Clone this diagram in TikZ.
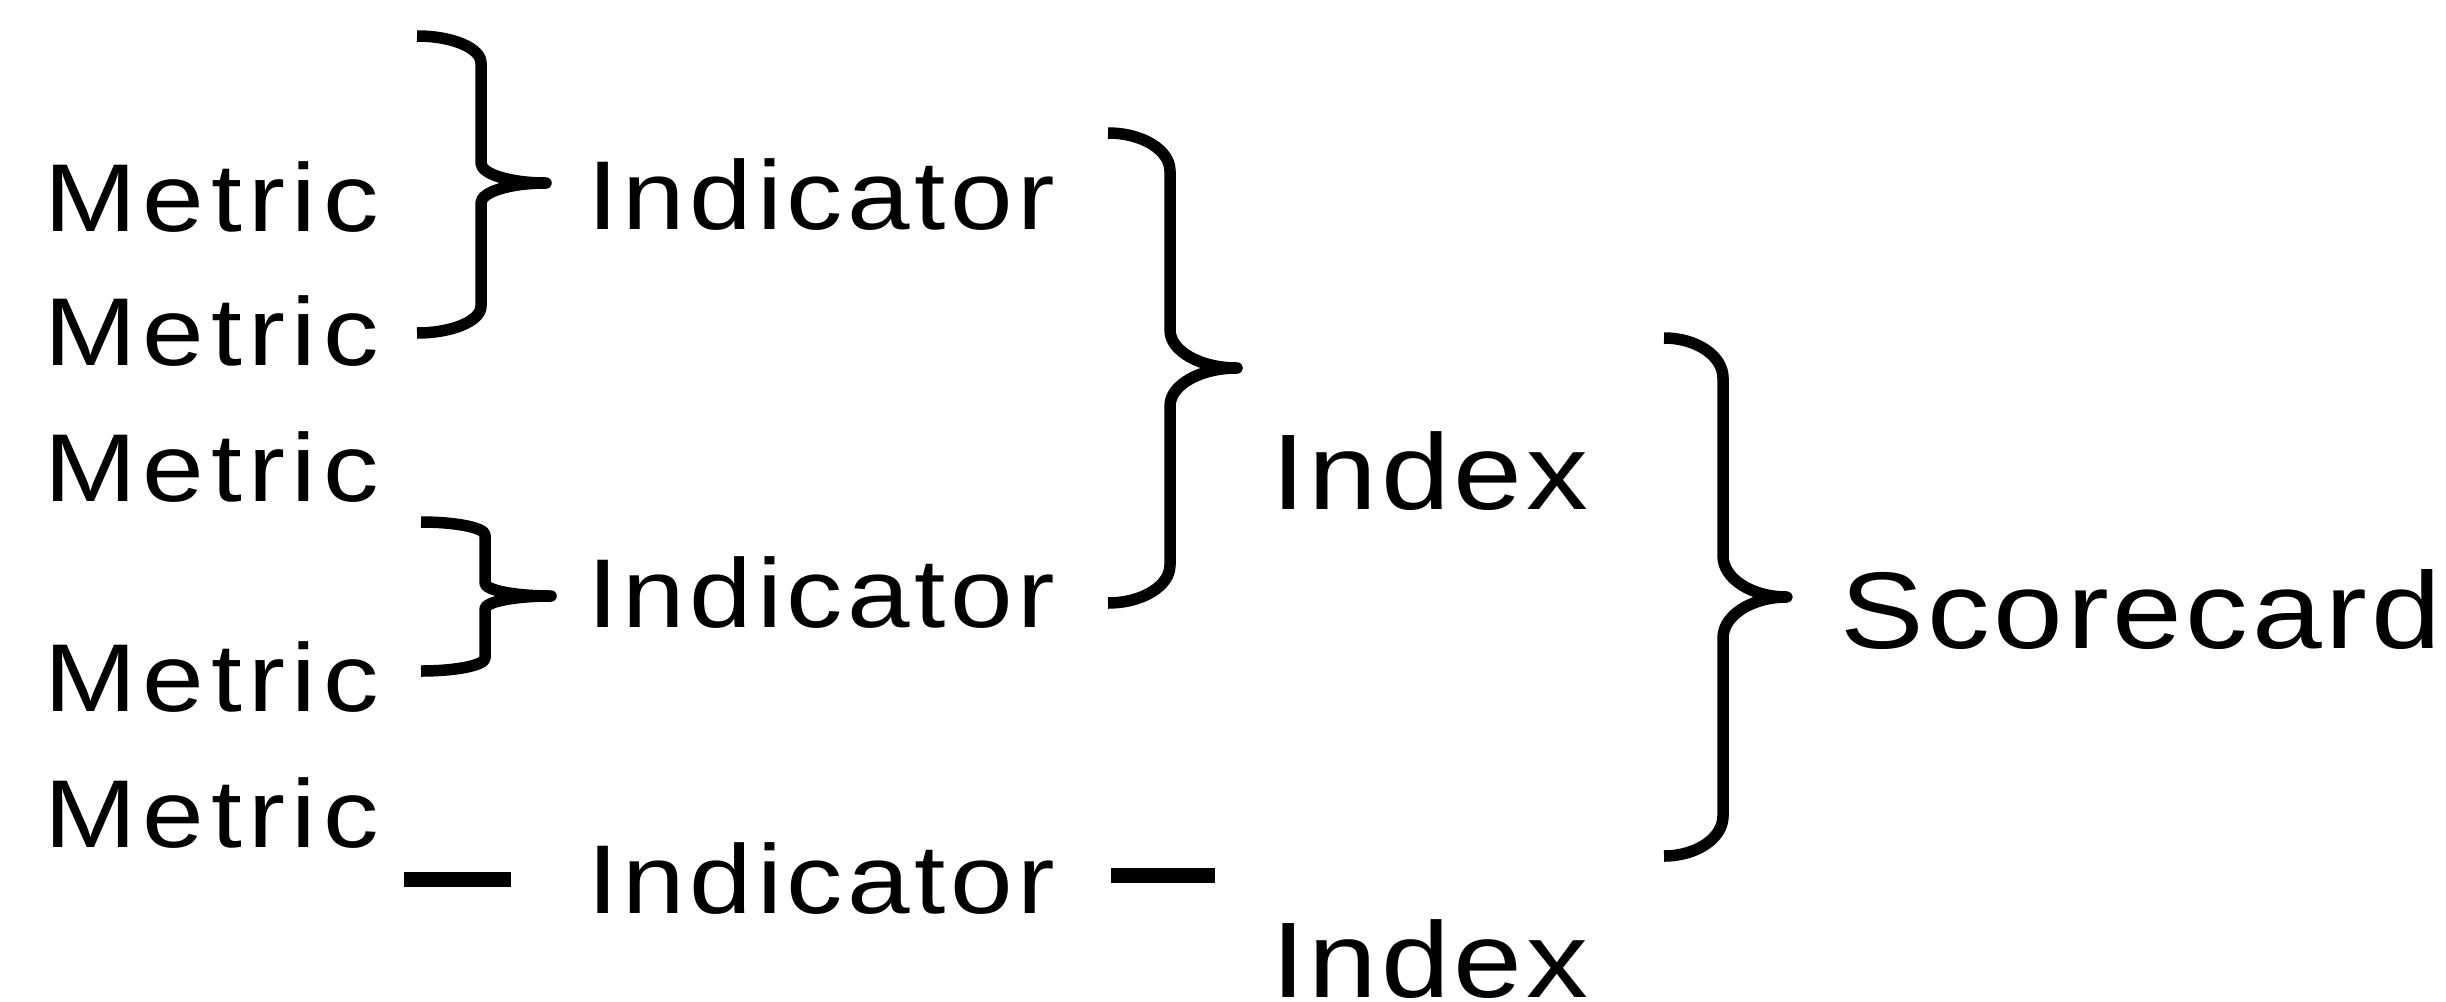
\documentclass[tikz,border=0pt]{standalone}
\usepackage{fontspec}
\newfontfamily\metricfont[FakeStretch=1.15,LetterSpace=6.8]{Liberation Sans}
\newfontfamily\indfont[FakeStretch=1.15,LetterSpace=4.7]{Liberation Sans}
\newfontfamily\idxfont[FakeStretch=1.15,LetterSpace=3.4]{Liberation Sans}
\newfontfamily\scfont[FakeStretch=1.15,LetterSpace=3.4]{Liberation Sans}
\tikzset{
  lbl/.style={anchor=base west, inner sep=0pt, outer sep=0pt, text=black},
  metric/.style={lbl, font=\metricfont\fontsize{96.4pt}{100pt}\selectfont},
  indic/.style={lbl, font=\indfont\fontsize{97.8pt}{100pt}\selectfont},
  indexlbl/.style={lbl, font=\idxfont\fontsize{107.5pt}{110pt}\selectfont},
  scorelbl/.style={lbl, font=\scfont\fontsize{109pt}{112pt}\selectfont},
  bracestyle/.style={draw=black, line width=11.5pt, line cap=butt, line join=round},
  dashbar/.style={fill=black}
}
% #1 xe, #2 xs, #3 xt, #4 ytop, #5 ytip, #6 ybot, #7 a (end curve), #8 b (tip curve)
\newcommand\drawbrace[8]{%
  \draw[bracestyle] (#1,#4) .. controls ({#1+0.552*(#2-#1)},#4) and (#2,{#4+0.448*#7}) .. (#2,{#4+#7})
    -- (#2,{#5-#8}) .. controls (#2,{#5-0.448*#8}) and ({#3-0.552*(#3-#2)},#5) .. (#3,#5)
    .. controls ({#3-0.552*(#3-#2)},#5) and (#2,{#5+0.448*#8}) .. (#2,{#5+#8})
    -- (#2,{#6-#7}) .. controls (#2,{#6-0.448*#7}) and ({#1+0.552*(#2-#1)},#6) .. (#1,#6);}
\begin{document}
\begin{tikzpicture}[x=1pt,y=-1pt]
\useasboundingbox[fill=white] (0,0) rectangle (2446,1001);
% Metrics
\node[metric] (m1) at (44,231) {Metric};
\node[metric] (m2) at (44,365) {Metric};
\node[metric] (m3) at (44,501) {Metric};
\node[metric] (m4) at (44,711) {Metric};
\node[metric] (m5) at (44,847) {Metric};
% Indicators
\node[indic] (i1) at (587,229) {Indicator};
\node[indic] (i2) at (587,627) {Indicator};
\node[indic] (i3) at (587,913) {Indicator};
% Indexes
\node[indexlbl] (x1) at (1271,509) {Index};
\node[indexlbl] (x2) at (1271,997) {Index};
% Scorecard
\node[scorelbl] (sc) at (1840,648) {Scorecard};
% Braces
\drawbrace{417}{481}{546}{36}{183}{333}{27}{20}
\drawbrace{421}{485}{551}{522}{596}{671}{13}{13}
\drawbrace{1108}{1170}{1237}{133}{368}{603}{38}{38}
\drawbrace{1664}{1723}{1787}{338}{597}{856}{40}{41}
% Dashes
\fill[dashbar] (404,872) rectangle (511,887);
\fill[dashbar] (1111,868) rectangle (1215,883);
\end{tikzpicture}
\end{document}
